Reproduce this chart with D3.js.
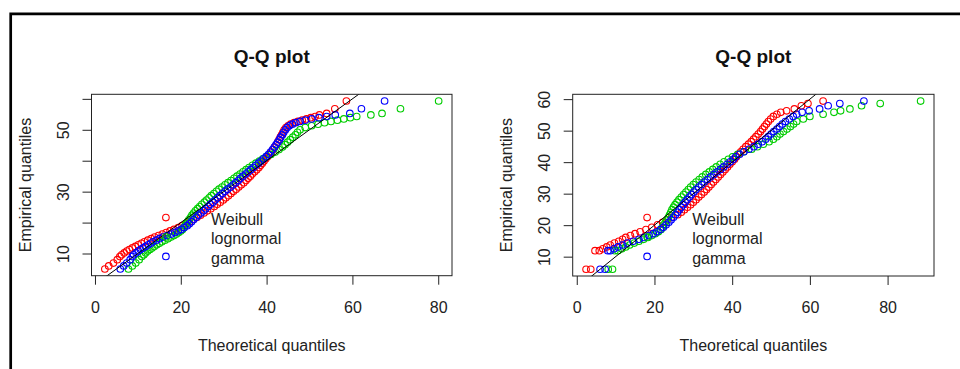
<!DOCTYPE html>
<html>
<head>
<meta charset="utf-8">
<script src="https://cdn.jsdelivr.net/npm/d3@7"></script>
<style>
  body { margin: 0; background: #fff; }
  svg { display: block; }
</style>
</head>
<body>
<svg id="chart" width="960" height="369"></svg>
<script>
// legend / series
const seriesNames = ["Weibull", "lognormal", "gamma"];

// left panel: empirical quantiles (sorted data) and theoretical quantiles of each fit
const leftEmpirical = [5.0, 6.0, 6.9, 8.0, 9.0, 9.6, 10.2, 10.8, 11.3, 11.8,
  12.3, 12.8, 13.3, 13.8, 14.3, 14.8, 15.3, 15.8, 16.3, 16.8,
  17.3, 17.8, 18.4, 19.0, 19.6, 20.3, 21.0, 21.7, 22.4, 23.1,
  23.8, 24.5, 25.2, 25.9, 26.6, 27.3, 28.0, 28.7, 29.4, 30.1,
  30.8, 31.5, 32.2, 32.9, 33.6, 34.3, 35.0, 35.7, 36.4, 37.1,
  37.8, 38.5, 39.2, 39.9, 40.6, 41.3, 42.0, 42.8, 43.6, 44.4,
  45.2, 46.0, 46.8, 47.6, 48.4, 49.2, 50.0, 50.7, 51.3, 51.8,
  52.3, 52.7, 53.1, 53.5, 53.9, 54.3, 54.8, 55.3, 56.8, 59.3];
const leftWeibull = [2.3, 3.2, 4.3, 5.2, 5.8, 6.2, 6.8, 7.4, 8.0, 8.7,
  9.4, 10.1, 10.8, 11.5, 12.3, 13.1, 13.9, 14.8, 15.7, 16.6,
  17.5, 18.4, 19.4, 20.3, 21.2, 22.0, 22.9, 23.8, 24.6, 25.4,
  26.2, 27.0, 27.8, 28.5, 29.2, 29.9, 30.5, 31.1, 31.7, 32.3,
  32.9, 33.5, 34.1, 34.7, 35.2, 35.7, 36.2, 36.7, 37.2, 37.7,
  38.2, 38.6, 39.0, 39.4, 39.8, 40.2, 40.7, 41.1, 41.5, 41.9,
  42.3, 42.6, 42.9, 43.2, 43.5, 43.8, 44.1, 44.5, 45.0, 45.6,
  46.4, 47.3, 48.3, 49.3, 50.3, 51.3, 52.3, 54.0, 55.9, 58.6];
const leftLognormal = [7.8, 8.7, 9.5, 10.3, 10.9, 11.4, 11.8, 12.3, 12.8, 13.3,
  13.8, 14.4, 15.0, 15.6, 16.3, 17.0, 17.7, 18.4, 19.0, 19.5,
  20.0, 20.4, 20.7, 21.0, 21.3, 21.6, 21.9, 22.3, 22.6, 23.0,
  23.4, 23.9, 24.4, 24.9, 25.5, 26.0, 26.6, 27.1, 27.7, 28.3,
  28.9, 29.6, 30.3, 31.0, 31.7, 32.4, 33.1, 33.8, 34.5, 35.2,
  35.9, 36.7, 37.5, 38.3, 39.1, 39.9, 41.0, 42.0, 42.9, 43.7,
  44.3, 44.9, 45.5, 46.1, 46.7, 47.2, 47.8, 49.0, 50.5, 52.0,
  53.5, 55.0, 56.5, 58.0, 59.5, 61.0, 64.3, 66.9, 71.2, 80.1];
const leftGamma = [5.9, 6.7, 7.4, 8.2, 8.7, 9.0, 9.6, 10.1, 10.6, 11.2,
  11.8, 12.4, 13.0, 13.5, 14.3, 15.0, 15.8, 16.8, 17.8, 18.6,
  19.4, 20.1, 20.8, 21.5, 22.0, 22.5, 23.0, 23.6, 24.1, 24.7,
  25.3, 25.8, 26.4, 26.9, 27.5, 28.0, 28.6, 29.1, 29.7, 30.3,
  30.9, 31.6, 32.2, 32.8, 33.4, 33.9, 34.5, 35.1, 35.7, 36.3,
  36.9, 37.5, 38.1, 38.7, 39.3, 39.9, 40.4, 40.9, 41.4, 41.8,
  42.2, 42.6, 43.0, 43.3, 43.7, 44.0, 44.4, 44.8, 45.3, 46.0,
  46.8, 47.8, 49.0, 50.5, 52.2, 54.0, 56.0, 59.4, 62.1, 67.5];

// right panel
const rightEmpirical = [6.0, 6.0, 11.9, 11.9, 12.5, 13.1, 13.7, 14.3, 14.9, 15.5,
  16.1, 16.7, 17.3, 17.9, 18.6, 19.3, 20.1, 20.9, 21.7, 22.5,
  23.3, 24.1, 24.9, 25.7, 26.5, 27.3, 28.1, 28.9, 29.7, 30.5,
  31.3, 32.1, 32.9, 33.7, 34.5, 35.3, 36.1, 36.9, 37.7, 38.5,
  39.3, 40.1, 40.9, 41.7, 42.5, 43.3, 44.1, 44.9, 45.7, 46.5,
  47.3, 48.1, 48.9, 49.7, 50.5, 51.3, 52.1, 52.9, 53.7, 54.5,
  55.2, 55.8, 56.3, 56.9, 57.9, 58.6, 59.4];
const rightWeibull = [2.4, 3.6, 4.7, 5.8, 6.7, 7.7, 8.6, 9.7, 10.8, 11.8,
  12.6, 13.8, 15.0, 16.3, 17.8, 19.3, 20.8, 22.1, 23.3, 24.4,
  26.0, 26.9, 27.7, 28.5, 29.3, 30.0, 30.7, 31.4, 32.1, 32.8,
  33.4, 34.0, 34.6, 35.2, 35.8, 36.4, 37.0, 37.6, 38.2, 38.8,
  39.4, 40.0, 40.6, 41.1, 41.6, 42.2, 42.8, 43.5, 44.2, 44.9,
  45.5, 46.1, 46.7, 47.3, 47.8, 48.3, 48.8, 49.3, 49.9, 50.6,
  51.5, 52.5, 54.0, 56.0, 57.8, 59.5, 63.4];
const rightLognormal = [8.1, 9.2, 9.8, 10.6, 11.6, 12.6, 13.6, 14.8, 16.0, 17.2,
  18.3, 19.3, 20.2, 21.0, 21.7, 22.0, 22.4, 22.8, 23.2, 23.6,
  23.9, 24.2, 24.5, 24.9, 25.3, 25.8, 26.3, 26.9, 27.5, 28.1,
  28.7, 29.3, 30.0, 30.7, 31.5, 32.3, 33.2, 34.1, 35.0, 35.9,
  36.9, 37.9, 39.0, 40.1, 41.4, 43.0, 45.0, 46.5, 48.0, 49.5,
  50.6, 51.5, 52.3, 53.2, 54.1, 55.0, 55.8, 56.6, 58.3, 60.0,
  63.4, 66.2, 67.9, 70.3, 73.3, 78.1, 88.5];
const rightGamma = [6.0, 7.3, 8.0, 8.6, 9.6, 10.6, 11.8, 13.0, 14.5, 16.0,
  17.3, 18.6, 19.7, 20.6, 21.5, 22.3, 23.0, 23.7, 24.3, 24.9,
  25.4, 25.9, 26.4, 26.9, 27.4, 27.9, 28.4, 29.0, 29.5, 30.1,
  30.7, 31.4, 32.1, 32.8, 33.6, 34.4, 35.3, 36.1, 37.0, 37.8,
  38.7, 39.5, 40.3, 40.9, 41.9, 43.0, 44.3, 45.6, 46.7, 47.7,
  48.6, 49.3, 50.0, 50.7, 51.5, 52.2, 52.9, 53.7, 54.7, 55.7,
  56.6, 58.0, 59.8, 62.5, 64.7, 67.7, 73.9];

// axis ticks
const xTicks = [0, 20, 40, 60, 80];
const yTicks = [10, 20, 30, 40, 50, 60];
const yLabelsLeft = [10, 30, 50];
const yLabelsRight = [10, 20, 30, 40, 50, 60];

// styles (R palette: red, green3, blue)
const colors = ["#ff0000", "#00cd00", "#0000ff"];
const font = "'Liberation Sans', Arial, sans-serif";

const svg = d3.select("#chart");

// outer frame (top and left edge only)
svg.append("path")
  .attr("d", "M10.7,369 L10.7,13.8 L960,13.8")
  .attr("fill", "none")
  .attr("stroke", "#000")
  .attr("stroke-width", 2.7);

// R style range: extent padded by 4%
function rRange(vals) {
  const [a, b] = d3.extent(vals);
  const p = (b - a) * 0.04;
  return [a - p, b + p];
}

function panel(id, box, emp, theo, yLabels) {
  const g = svg.append("g");
  const x = d3.scaleLinear().domain(rRange(theo.flat())).range([box.x0, box.x1]);
  const y = d3.scaleLinear().domain(rRange(emp)).range([box.y1, box.y0]);

  g.append("clipPath").attr("id", id)
    .append("rect")
    .attr("x", box.x0).attr("y", box.y0)
    .attr("width", box.x1 - box.x0).attr("height", box.y1 - box.y0);

  const plot = g.append("g").attr("clip-path", `url(#${id})`);

  // points: Weibull, lognormal, gamma
  theo.forEach((xs, k) => {
    plot.append("g")
      .selectAll("circle")
      .data(xs.map((v, i) => [v, emp[i]]))
      .join("circle")
      .attr("cx", d => x(d[0]))
      .attr("cy", d => y(d[1]))
      .attr("r", 3.3)
      .attr("fill", "none")
      .attr("stroke", colors[k])
      .attr("stroke-width", 1.1);
  });

  // y = x reference line
  const xd = x.domain();
  plot.append("line")
    .attr("x1", x(xd[0])).attr("y1", y(xd[0]))
    .attr("x2", x(xd[1])).attr("y2", y(xd[1]))
    .attr("stroke", "#000")
    .attr("stroke-width", 1);

  // box
  g.append("rect")
    .attr("x", box.x0).attr("y", box.y0)
    .attr("width", box.x1 - box.x0).attr("height", box.y1 - box.y0)
    .attr("fill", "none")
    .attr("stroke", "#222")
    .attr("stroke-width", 1);

  // x axis
  const xa = g.append("g")
    .attr("transform", `translate(0,${box.y1})`)
    .call(d3.axisBottom(x).tickValues(xTicks).tickSize(9).tickFormat(d3.format("d")));
  xa.select(".domain").remove();
  xa.attr("font-family", font).attr("font-size", 16).attr("color", "#222");
  xa.selectAll("text").attr("y", 37).attr("dy", 0);

  // y axis, labels parallel to axis
  const ya = g.append("g")
    .attr("transform", `translate(${box.x0},0)`)
    .call(d3.axisLeft(y).tickValues(yTicks).tickSize(9)
      .tickFormat(d => yLabels.includes(d) ? d : ""));
  ya.select(".domain").remove();
  ya.attr("font-family", font).attr("font-size", 16).attr("color", "#222");
  ya.selectAll("text")
    .attr("x", 0).attr("dy", 0)
    .attr("text-anchor", "middle")
    .attr("transform", "translate(-23,0) rotate(-90)");

  const cx = (box.x0 + box.x1) / 2;
  const cy = (box.y0 + box.y1) / 2;

  g.append("text")
    .attr("x", cx).attr("y", 63.3)
    .attr("text-anchor", "middle")
    .attr("font-family", font).attr("font-size", 19).attr("font-weight", "bold")
    .attr("fill", "#111")
    .text("Q-Q plot");

  g.append("text")
    .attr("x", cx).attr("y", box.y1 + 75)
    .attr("text-anchor", "middle")
    .attr("font-family", font).attr("font-size", 16)
    .attr("fill", "#222")
    .text("Theoretical quantiles");

  g.append("text")
    .attr("transform", `translate(${box.x0 - 61},${cy}) rotate(-90)`)
    .attr("text-anchor", "middle")
    .attr("font-family", font).attr("font-size", 16)
    .attr("fill", "#222")
    .text("Empirical quantiles");

  // legend (no box)
  const lg = g.append("g").attr("transform", `translate(${box.x0},225)`);
  seriesNames.forEach((name, k) => {
    lg.append("circle")
      .attr("cx", 74.4).attr("cy", k * 19.4 - 7.4)
      .attr("r", 3.3)
      .attr("fill", "none")
      .attr("stroke", colors[k])
      .attr("stroke-width", 1.1);
    lg.append("text")
      .attr("x", 119.5).attr("y", k * 19.4)
      .attr("font-family", font).attr("font-size", 16)
      .attr("fill", "#222")
      .text(name);
  });
}

panel("clipL", {x0: 91.5, x1: 452, y0: 94.3, y1: 275.7}, leftEmpirical,
  [leftWeibull, leftLognormal, leftGamma], yLabelsLeft);
panel("clipR", {x0: 572.7, x1: 934, y0: 94.3, y1: 276}, rightEmpirical,
  [rightWeibull, rightLognormal, rightGamma], yLabelsRight);
</script>
</body>
</html>
